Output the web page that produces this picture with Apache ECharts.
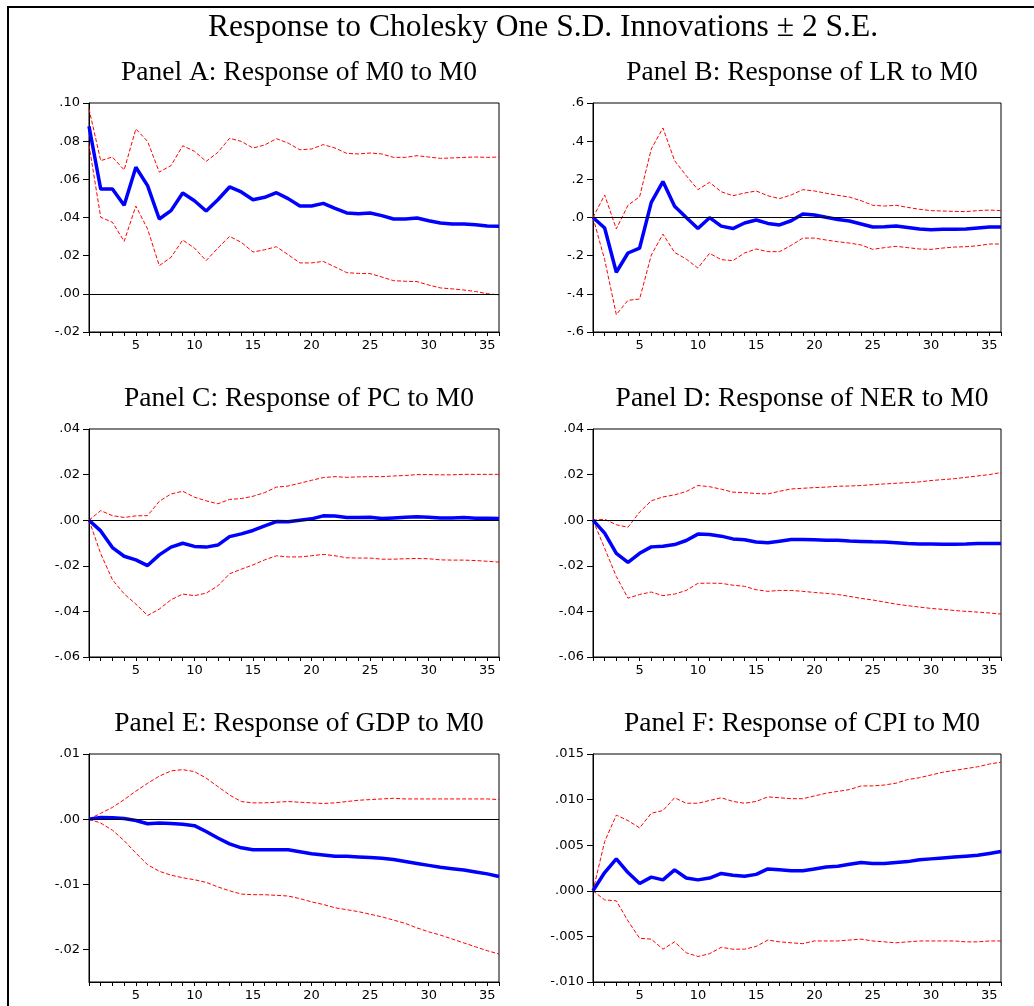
<!DOCTYPE html>
<html>
<head>
<meta charset="utf-8">
<title>Response to Cholesky One S.D. Innovations ± 2 S.E.</title>
<script src="https://cdn.jsdelivr.net/npm/echarts@6/dist/echarts.min.js"></script>
<style>
  html, body { margin: 0; padding: 0; background: #fff; }
  #chart { width: 1034px; height: 1006px; }
</style>
</head>
<body>
<div id="chart"></div>
<script>
// periods 1..36
var periods = ['1','2','3','4','5','6','7','8','9','10','11','12','13','14','15','16','17','18',
  '19','20','21','22','23','24','25','26','27','28','29','30','31','32','33','34','35','36'];

// Panel A: M0 to M0
var m0Resp = [0.0878,0.0549,0.0549,0.0464,0.0663,0.0567,0.0392,0.0436,0.0528,0.0488,0.0434,0.0493,
  0.0560,0.0534,0.0493,0.0506,0.0530,0.0499,0.0460,0.0460,0.0474,0.0448,0.0424,0.0420,
  0.0424,0.0410,0.0392,0.0392,0.0397,0.0383,0.0371,0.0366,0.0366,0.0362,0.0355,0.0354];
var m0Upper = [0.0969,0.0698,0.0717,0.0649,0.0864,0.0799,0.0638,0.0672,0.0776,0.0747,0.0694,0.0741,
  0.0815,0.0799,0.0764,0.0780,0.0813,0.0790,0.0755,0.0759,0.0782,0.0764,0.0736,0.0733,
  0.0738,0.0733,0.0715,0.0715,0.0724,0.0717,0.0710,0.0712,0.0715,0.0717,0.0715,0.0717];
var m0Lower = [0.0780,0.0401,0.0375,0.0275,0.0460,0.0340,0.0148,0.0191,0.0282,0.0240,0.0174,0.0240,
  0.0301,0.0270,0.0219,0.0231,0.0247,0.0205,0.0162,0.0162,0.0170,0.0141,0.0111,0.0107,
  0.0106,0.0088,0.0069,0.0066,0.0064,0.0046,0.0031,0.0026,0.0020,0.0012,0.0001,-0.0006];

// Panel B: LR to M0
var lrResp = [0.0,-0.055,-0.287,-0.186,-0.160,0.079,0.188,0.059,0.0,-0.058,-0.001,-0.045,
  -0.058,-0.029,-0.013,-0.031,-0.039,-0.017,0.018,0.013,0.001,-0.010,-0.018,-0.034,
  -0.050,-0.048,-0.045,-0.052,-0.060,-0.064,-0.062,-0.062,-0.060,-0.055,-0.050,-0.050];
var lrUpper = [0.0,0.118,-0.060,0.064,0.109,0.359,0.469,0.298,0.219,0.146,0.184,0.135,
  0.114,0.128,0.139,0.114,0.099,0.118,0.146,0.139,0.127,0.116,0.107,0.088,
  0.064,0.060,0.064,0.053,0.043,0.036,0.034,0.032,0.031,0.036,0.039,0.036];
var lrLower = [0.0,-0.221,-0.509,-0.434,-0.427,-0.197,-0.087,-0.183,-0.218,-0.265,-0.188,-0.221,
  -0.226,-0.186,-0.165,-0.179,-0.179,-0.146,-0.108,-0.108,-0.118,-0.127,-0.134,-0.144,
  -0.167,-0.158,-0.151,-0.158,-0.165,-0.167,-0.160,-0.155,-0.153,-0.148,-0.139,-0.139];

// Panel C: PC to M0
var pcResp = [0,-0.0047,-0.0120,-0.0158,-0.0174,-0.0199,-0.0152,-0.0118,-0.0101,-0.0115,-0.0118,-0.0109,
  -0.0072,-0.0060,-0.0045,-0.0025,-0.0006,-0.0007,0,0.0006,0.0019,0.0018,0.0012,0.0012,
  0.0013,0.0007,0.0010,0.0013,0.0015,0.0013,0.0010,0.0010,0.0012,0.0009,0.0009,0.0007];
var pcUpper = [0,0.0042,0.0020,0.0012,0.0019,0.0020,0.0083,0.0115,0.0127,0.0101,0.0085,0.0072,
  0.0091,0.0095,0.0105,0.0121,0.0145,0.0150,0.0162,0.0175,0.0187,0.0191,0.0188,0.0190,
  0.0191,0.0191,0.0194,0.0196,0.0200,0.0200,0.0199,0.0199,0.0201,0.0201,0.0201,0.0201];
var pcLower = [0,-0.0147,-0.0261,-0.0323,-0.0368,-0.0418,-0.0390,-0.0349,-0.0324,-0.0331,-0.0320,-0.0288,
  -0.0235,-0.0215,-0.0196,-0.0174,-0.0156,-0.0161,-0.0161,-0.0156,-0.0150,-0.0156,-0.0165,-0.0166,
  -0.0166,-0.0171,-0.0171,-0.0169,-0.0168,-0.0169,-0.0174,-0.0175,-0.0175,-0.0177,-0.0180,-0.0184];

// Panel D: NER to M0
var nerResp = [0,-0.0057,-0.0145,-0.0185,-0.0145,-0.0117,-0.0114,-0.0107,-0.0089,-0.0061,-0.0063,-0.0070,
  -0.0082,-0.0086,-0.0096,-0.0099,-0.0092,-0.0085,-0.0085,-0.0086,-0.0088,-0.0088,-0.0091,-0.0093,
  -0.0095,-0.0096,-0.0099,-0.0102,-0.0104,-0.0104,-0.0105,-0.0105,-0.0104,-0.0102,-0.0102,-0.0102];
var nerUpper = [0,0.0004,-0.0020,-0.0031,0.0036,0.0085,0.0102,0.0111,0.0126,0.0152,0.0147,0.0136,
  0.0123,0.0121,0.0117,0.0115,0.0127,0.0137,0.0140,0.0143,0.0145,0.0149,0.0150,0.0152,
  0.0156,0.0159,0.0162,0.0165,0.0168,0.0174,0.0178,0.0182,0.0188,0.0194,0.0200,0.0209];
var nerLower = [0,-0.0123,-0.0247,-0.0342,-0.0326,-0.0315,-0.0331,-0.0324,-0.0308,-0.0277,-0.0276,-0.0277,
  -0.0285,-0.0290,-0.0305,-0.0312,-0.0308,-0.0308,-0.0312,-0.0317,-0.0321,-0.0326,-0.0334,-0.0343,
  -0.0350,-0.0359,-0.0368,-0.0375,-0.0381,-0.0387,-0.0391,-0.0396,-0.0400,-0.0403,-0.0407,-0.0412];

// Panel E: GDP to M0
var gdpResp = [0,0.00026,0.0002,0.0001,-0.0002,-0.0007,-0.0006,-0.00066,-0.0008,-0.0010,-0.0019,-0.0029,
  -0.0038,-0.0044,-0.0047,-0.0047,-0.0047,-0.0047,-0.0050,-0.0053,-0.0055,-0.0057,-0.0057,-0.0058,
  -0.0059,-0.0060,-0.0062,-0.0065,-0.0068,-0.0071,-0.0074,-0.0076,-0.0078,-0.0081,-0.0084,-0.0088];
var gdpUpper = [0,0.0009,0.0018,0.0030,0.0043,0.0055,0.0066,0.0074,0.0076,0.0073,0.0063,0.0050,
  0.0037,0.0027,0.0025,0.0025,0.0026,0.0027,0.0026,0.0025,0.0024,0.0025,0.0027,0.0029,
  0.0030,0.0031,0.0032,0.0031,0.0031,0.0031,0.0031,0.0031,0.0031,0.0031,0.0031,0.0030];
var gdpLower = [0,-0.0006,-0.0017,-0.0033,-0.0052,-0.0070,-0.0080,-0.0086,-0.0090,-0.0093,-0.0097,-0.0104,
  -0.0110,-0.0115,-0.0116,-0.0116,-0.0117,-0.0118,-0.0122,-0.0127,-0.0131,-0.0136,-0.0139,-0.0142,
  -0.0146,-0.0150,-0.0155,-0.0160,-0.0167,-0.0173,-0.0178,-0.0184,-0.0190,-0.0196,-0.0202,-0.0207];

// Panel F: CPI to M0
var cpiResp = [0,0.0020,0.0035,0.0020,0.0008,0.0015,0.0012,0.0023,0.0014,0.0012,0.0014,0.0019,
  0.0017,0.0016,0.0018,0.0024,0.0023,0.0022,0.0022,0.0024,0.0026,0.0027,0.0029,0.0031,
  0.0030,0.0030,0.0031,0.0032,0.0034,0.0035,0.0036,0.0037,0.0038,0.0039,0.0041,0.0043];
var cpiUpper = [0,0.0054,0.0083,0.0077,0.0069,0.0085,0.0088,0.0102,0.0096,0.0096,0.0099,0.0102,
  0.0098,0.0096,0.0098,0.0103,0.0102,0.0101,0.0101,0.0104,0.0107,0.0109,0.0111,0.0115,
  0.0115,0.0116,0.0118,0.0122,0.0124,0.0127,0.0130,0.0132,0.0134,0.0136,0.0139,0.0141];
var cpiLower = [0,-0.0010,-0.0011,-0.0033,-0.0052,-0.0053,-0.0064,-0.0056,-0.0068,-0.0072,-0.0069,-0.0062,
  -0.0064,-0.0064,-0.0061,-0.0054,-0.0056,-0.0057,-0.0058,-0.0055,-0.0055,-0.0055,-0.0054,-0.0053,
  -0.0055,-0.0056,-0.0057,-0.0056,-0.0055,-0.0055,-0.0055,-0.0055,-0.0056,-0.0056,-0.0055,-0.0055];

var mainTitle = 'Response to Cholesky One S.D. Innovations \u00b1 2 S.E.';
var panelTitles = ['Panel A: Response of M0 to M0', 'Panel B: Response of LR to M0',
  'Panel C: Response of PC to M0', 'Panel D: Response of NER to M0',
  'Panel E: Response of GDP to M0', 'Panel F: Response of CPI to M0'];
var yTicksA = [-0.02, 0, 0.02, 0.04, 0.06, 0.08, 0.10];
var yTicksB = [-0.6, -0.4, -0.2, 0, 0.2, 0.4, 0.6];
var yTicksC = [-0.06, -0.04, -0.02, 0, 0.02, 0.04];
var yTicksD = [-0.06, -0.04, -0.02, 0, 0.02, 0.04];
var yTicksE = [-0.02, -0.01, 0, 0.01];
var yTicksF = [-0.010, -0.005, 0, 0.005, 0.010, 0.015];

var sans = '"DejaVu Sans", Arial, sans-serif';
var serif = '"Liberation Serif", "Times New Roman", serif';

var panels = [
  { resp: m0Resp, up: m0Upper, lo: m0Lower, ticks: yTicksA, min: -0.02, max: 0.10, dec: 2, left: 89, top: 103, width: 410, height: 229 },
  { resp: lrResp, up: lrUpper, lo: lrLower, ticks: yTicksB, min: -0.6, max: 0.6, dec: 1, left: 593, top: 103, width: 408, height: 229 },
  { resp: pcResp, up: pcUpper, lo: pcLower, ticks: yTicksC, min: -0.06, max: 0.04, dec: 2, left: 89, top: 429, width: 410, height: 228 },
  { resp: nerResp, up: nerUpper, lo: nerLower, ticks: yTicksD, min: -0.06, max: 0.04, dec: 2, left: 593, top: 429, width: 408, height: 228 },
  { resp: gdpResp, up: gdpUpper, lo: gdpLower, ticks: yTicksE, min: -0.025, max: 0.01, dec: 2, left: 89, top: 754, width: 410, height: 228 },
  { resp: cpiResp, up: cpiUpper, lo: cpiLower, ticks: yTicksF, min: -0.010, max: 0.015, dec: 3, left: 593, top: 754, width: 408, height: 228 }
];

function fmt(v, dec) {
  var s = Math.abs(v).toFixed(dec).replace(/^0/, '');
  return (v < -1e-12 ? '-' : '') + s;
}

var chart = echarts.init(document.getElementById('chart'));

var titles = [{
  text: mainTitle, left: 538, top: 7, textAlign: 'center',
  textStyle: { fontFamily: serif, fontSize: 31.5, fontWeight: 'normal', color: '#000' }
}];
var grids = [], xAxes = [], yAxes = [], series = [];

panels.forEach(function (p, i) {
  titles.push({
    text: panelTitles[i], left: p.left + p.width / 2, top: p.top - 49, textAlign: 'center',
    textStyle: { fontFamily: serif, fontSize: 27.5, fontWeight: 'normal', color: '#000' }
  });
  grids.push({ left: p.left, top: p.top, width: p.width, height: p.height, show: true, borderColor: '#000', borderWidth: 1 });
  xAxes.push({
    type: 'category', gridIndex: i, data: periods, boundaryGap: false,
    axisLine: { onZero: false, lineStyle: { color: '#000', width: 1 } },
    axisTick: { interval: 0, length: 4, lineStyle: { color: '#000' } },
    axisLabel: {
      interval: function (idx) { return (idx + 1) % 5 === 0; },
      color: '#000', fontFamily: sans, fontSize: 13, margin: 7
    },
    splitLine: { show: false }
  });
  yAxes.push({
    type: 'value', gridIndex: i, min: p.min, max: p.max,
    axisLine: { show: true, lineStyle: { color: '#000', width: 1 } },
    axisTick: { show: true, length: 6, customValues: p.ticks, lineStyle: { color: '#000' } },
    axisLabel: {
      customValues: p.ticks, color: '#000', fontFamily: sans, fontSize: 13, margin: 9,
      formatter: (function (d) { return function (v) { return fmt(v, d); }; })(p.dec)
    },
    splitLine: { show: false }
  });
  var dash = { color: '#ff0000', width: 1, type: [4, 2] };
  series.push({ type: 'line', xAxisIndex: i, yAxisIndex: i, data: p.up, symbol: 'none', lineStyle: dash, z: 2 });
  series.push({ type: 'line', xAxisIndex: i, yAxisIndex: i, data: p.lo, symbol: 'none', lineStyle: dash, z: 2 });
  series.push({
    type: 'line', xAxisIndex: i, yAxisIndex: i, data: p.resp, symbol: 'none', z: 3,
    lineStyle: { color: '#0000ff', width: 3.5 },
    markLine: {
      silent: true, symbol: ['none', 'none'], label: { show: false },
      lineStyle: { color: '#000', width: 1, type: 'solid' },
      data: [{ yAxis: 0 }]
    }
  });
});

chart.setOption({
  animation: false,
  backgroundColor: '#fff',
  title: titles,
  grid: grids,
  xAxis: xAxes,
  yAxis: yAxes,
  series: series,
  graphic: [{
    type: 'rect', shape: { x: 8, y: 7, width: 1100, height: 1100 },
    style: { fill: 'none', stroke: '#000', lineWidth: 2 }, silent: true
  }]
});
</script>
</body>
</html>
